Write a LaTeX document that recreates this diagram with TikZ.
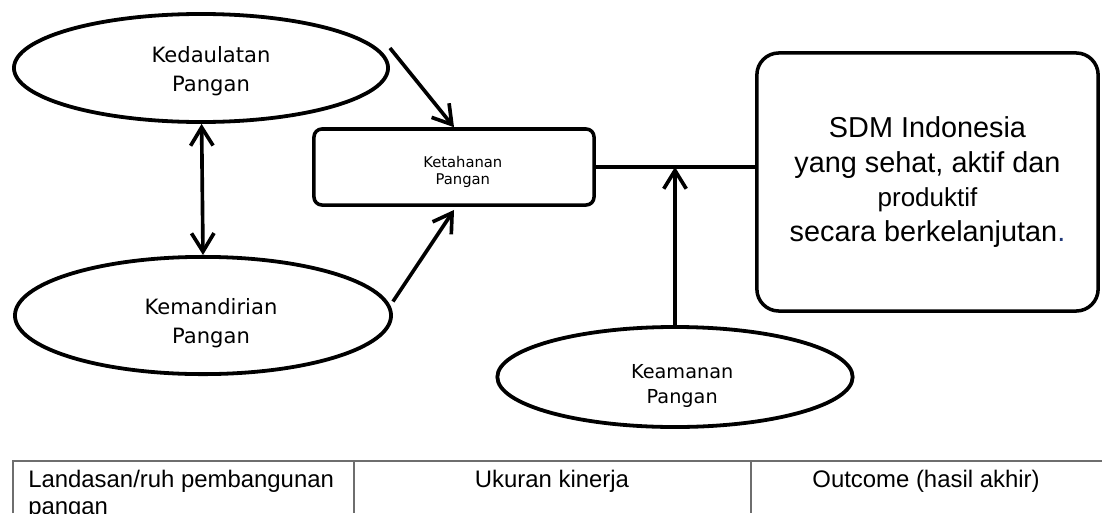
\documentclass[tikz,border=0pt]{standalone}
\usepackage{fontspec}
\setmainfont{Liberation Sans}
\newfontfamily\pillarfont{DejaVu Sans}
\usetikzlibrary{shapes.geometric, arrows.meta}
\definecolor{dotblue}{RGB}{31,56,120}
\definecolor{tablegray}{RGB}{110,110,110}
\tikzstyle{pillar} = [ellipse, draw=black, line width=2.7pt, inner sep=0pt]
\tikzstyle{pillartext} = [inner sep=0pt, align=center, font=\pillarfont\fontsize{15}{20.5}\selectfont]
\tikzstyle{process} = [rectangle, rounded corners=0.2cm, draw=black, line width=2.5pt, minimum width=7cm, minimum height=1.9cm]
\tikzstyle{outcome} = [rectangle, rounded corners=0.55cm, draw=black, line width=2.5pt, minimum width=8.53cm, minimum height=6.45cm, align=center, font=\fontsize{20.5}{24.5}\selectfont]
\tikzstyle{arrow} = [line width=2.6pt, -{Straight Barb[length=13pt,width=16pt]}]
\tikzstyle{dblarrow} = [line width=2.6pt, {Straight Barb[length=13pt,width=16pt]}-{Straight Barb[length=13pt,width=16pt]}]
\tikzstyle{link} = [line width=2.5pt]
\tikzstyle{tableline} = [line width=0.9pt, draw=tablegray]
\tikzstyle{cell} = [inner sep=0pt, font=\fontsize{17}{19.2}\selectfont]

\begin{document}
\begin{tikzpicture}[x=0.025cm, y=-0.025cm]
\useasboundingbox (0,0) rectangle (1102,513);

% Nodes
\node (ked) [pillar, minimum width=9.35cm, minimum height=2.7cm] at (201,68) {};
\node (kem) [pillar, minimum width=9.4cm, minimum height=2.93cm] at (203,315.5) {};
\node (kea) [pillar, minimum width=8.88cm, minimum height=2.5cm] at (675,377) {};
\node (ket) [process] at (454,167) {};
\node (sdm) [outcome] at (927.5,182) {SDM Indonesia\\yang sehat, aktif dan\\{\fontsize{18.5}{24.5}\selectfont produktif}\\secara berkelanjutan\textcolor{dotblue}{.}};

% Labels
\node (kedtext) [pillartext] at ([xshift=0.25cm, yshift=-0.08cm]ked.center) {Kedaulatan\\Pangan};
\node (kemtext) [pillartext] at ([xshift=0.2cm, yshift=-0.2cm]kem.center) {Kemandirian\\Pangan};
\node (keatext) [pillartext, font=\pillarfont\fontsize{13.7}{17.8}\selectfont] at ([xshift=0.18cm, yshift=-0.22cm]kea.center) {Keamanan\\Pangan};
\node (kettext) [pillartext, font=\pillarfont\fontsize{10.5}{12.2}\selectfont] at ([xshift=0.22cm, yshift=-0.12cm]ket.center) {Ketahanan\\Pangan};

% Arrows
\draw [dblarrow] (ked) -- ([shorten >=-0.25cm]kem.north);
\draw [arrow] ([yshift=0.5cm]ked.east) -- (ket.north);
\draw [arrow] ([yshift=0.35cm]kem.east) -- ([yshift=-0.08cm]ket.south);
\draw [link] (ket.east) -- (ket.east -| sdm.west);
\draw [arrow] (kea.north) -- (kea.north |- ket.east);

% Table
\draw [tableline] (13,513) |- (1102,461);
\draw [tableline] (354,461) -- (354,513);
\draw [tableline] (751,461) -- (751,513);
\node (landasan) [cell, anchor=north west, align=left] at (28,470) {Landasan/ruh pembangunan\\pangan};
\node (ukuran) [cell, anchor=base] at (552,487) {Ukuran kinerja};
\node (hasil) [cell, anchor=base] at (926,487) {Outcome (hasil akhir)};

\end{tikzpicture}
\end{document}
